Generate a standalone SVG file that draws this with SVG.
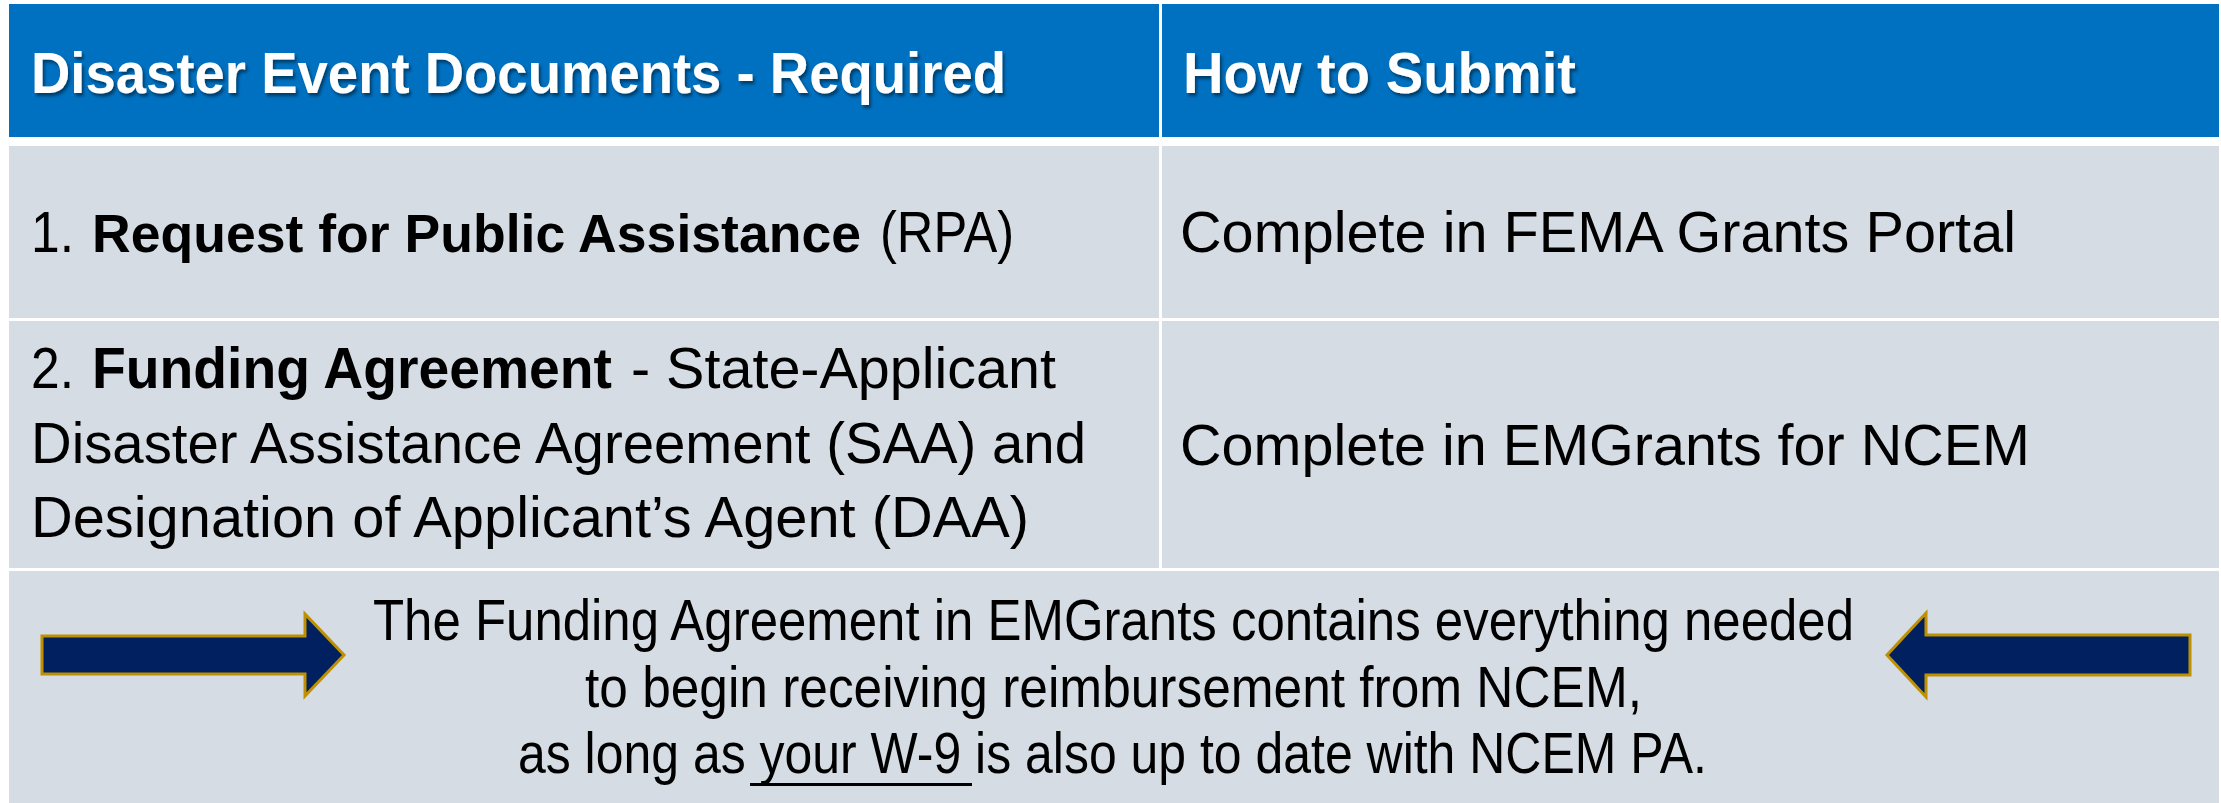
<svg xmlns="http://www.w3.org/2000/svg" width="2221" height="803" viewBox="0 0 2221 803">
<defs>
<style>
.hdr{fill:#0070C0}
.cell{fill:#D5DCE4}
.ht{font-family:"Liberation Sans",Arial,sans-serif;font-weight:bold;font-size:57px;fill:#FFFFFF}
.t{font-family:"Liberation Sans",Arial,sans-serif;font-size:57px;fill:#000000}
.b{font-weight:bold}
.arrow{fill:#002060;stroke:#BF9000;stroke-width:3;stroke-linejoin:miter}
</style>
<filter id="shadow" x="-5%" y="-20%" width="110%" height="150%">
<feDropShadow dx="2" dy="3" stdDeviation="1.5" flood-color="#000000" flood-opacity="0.45"/>
</filter>
</defs>
<rect width="2221" height="803" fill="#FFFFFF"/>

<g id="header-documents">
<rect class="hdr" x="9" y="4" width="1150" height="133"/>
<text class="ht" x="31" y="93" textLength="975" lengthAdjust="spacingAndGlyphs" filter="url(#shadow)">Disaster Event Documents - Required</text>
</g>
<g id="header-submit">
<rect class="hdr" x="1162" y="4" width="1057" height="133"/>
<text class="ht" x="1183" y="93" textLength="393" lengthAdjust="spacingAndGlyphs" filter="url(#shadow)">How to Submit</text>
</g>

<g id="row1-document">
<rect class="cell" x="9" y="146" width="1150" height="172"/>
<text class="t" x="31" y="252" textLength="43" lengthAdjust="spacingAndGlyphs">1.</text>
<text class="t b" x="92" y="252" font-size="54.5" textLength="769" lengthAdjust="spacingAndGlyphs" style="font-size:54.5px">Request for Public Assistance</text>
<text class="t" x="880" y="252" textLength="134" lengthAdjust="spacingAndGlyphs">(RPA)</text>
</g>
<g id="row1-submit">
<rect class="cell" x="1162" y="146" width="1057" height="172"/>
<text class="t" x="1180" y="252" textLength="836" lengthAdjust="spacingAndGlyphs">Complete in FEMA Grants Portal</text>
</g>

<g id="row2-document">
<rect class="cell" x="9" y="321" width="1150" height="247"/>
<text class="t" x="31" y="388" textLength="43" lengthAdjust="spacingAndGlyphs">2.</text>
<text class="t b" x="92" y="388" textLength="520" lengthAdjust="spacingAndGlyphs">Funding Agreement</text>
<text class="t" x="631" y="388" textLength="425" lengthAdjust="spacingAndGlyphs">- State-Applicant</text>
<text class="t" x="31" y="463" textLength="1055" lengthAdjust="spacingAndGlyphs">Disaster Assistance Agreement (SAA) and</text>
<text class="t" x="31" y="537" textLength="998" lengthAdjust="spacingAndGlyphs">Designation of Applicant’s Agent (DAA)</text>
</g>
<g id="row2-submit">
<rect class="cell" x="1162" y="321" width="1057" height="247"/>
<text class="t" x="1180" y="465" textLength="850" lengthAdjust="spacingAndGlyphs">Complete in EMGrants for NCEM</text>
</g>

<g id="note">
<rect class="cell" x="9" y="571" width="2210" height="232"/>
<text class="t" x="373" y="640" textLength="1481" lengthAdjust="spacingAndGlyphs">The Funding Agreement in EMGrants contains everything needed</text>
<text class="t" x="585" y="707" textLength="1057" lengthAdjust="spacingAndGlyphs">to begin receiving reimbursement from NCEM,</text>
<text class="t" x="518" y="773" textLength="1189" lengthAdjust="spacingAndGlyphs">as long as your W-9 is also up to date with NCEM PA.</text>
<rect x="750" y="783" width="222" height="3" fill="#000000"/>
</g>

<g id="connectors">
<polygon class="arrow" points="42,636 305,636 305,614 344,655 305,696 305,674 42,674"/>
<polygon class="arrow" points="2190,635 1926,635 1926,613 1887,655 1926,697 1926,675 2190,675"/>
</g>
</svg>
